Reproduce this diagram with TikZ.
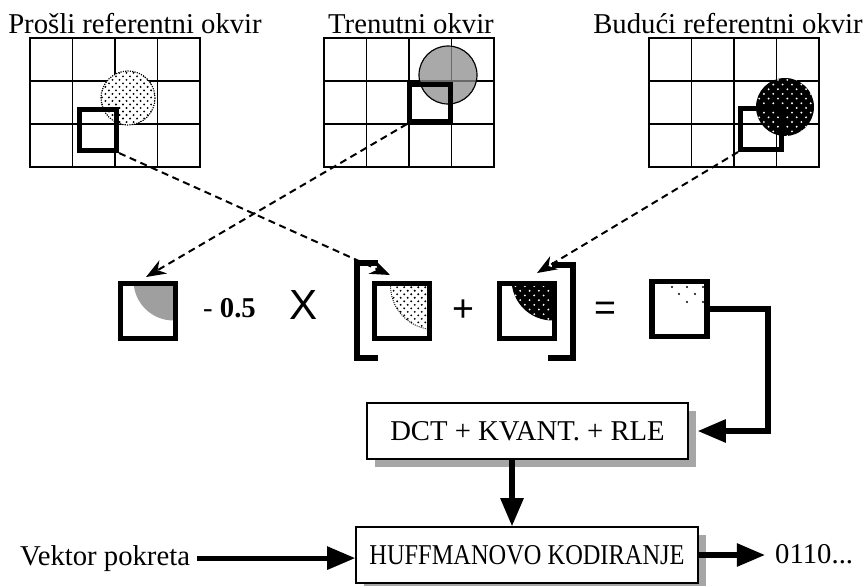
\documentclass[tikz,border=0pt]{standalone}
\usepackage{fontspec}
\setmainfont{Liberation Serif}
\newfontfamily\arialfont{Liberation Sans}
\usepackage{xcolor}
\usepackage{graphicx}
\usepackage{tikz}
\usetikzlibrary{arrows.meta,shadows,patterns}
\pgfdeclarepatternformonly{sparsedots}{\pgfqpoint{-1pt}{-1pt}}{\pgfqpoint{7pt}{7pt}}{\pgfqpoint{6pt}{6pt}}{%
  \pgfpathcircle{\pgfqpoint{0pt}{0pt}}{0.9pt}\pgfpathcircle{\pgfqpoint{3pt}{3pt}}{0.9pt}\pgfusepath{fill}}
\pgfdeclarepatternformonly{widedots}{\pgfqpoint{-1pt}{-1pt}}{\pgfqpoint{9pt}{9pt}}{\pgfqpoint{8pt}{8pt}}{%
  \pgfpathcircle{\pgfqpoint{0pt}{0pt}}{0.9pt}\pgfpathcircle{\pgfqpoint{4pt}{4pt}}{0.9pt}\pgfusepath{fill}}
\tikzstyle{frame} = [line width=1.5pt, line cap=rect, draw=black]
\tikzstyle{blok} = [line width=4.3pt, draw=black, inner sep=0pt]
\tikzstyle{mblok} = [line width=4.3pt, draw=black, inner sep=0pt, minimum size=1.65cm]
\tikzstyle{brk} = [line width=4.3pt, line join=miter]
\tikzstyle{stage} = [draw=black, line width=1.2pt, fill=white, inner sep=0pt, font=\fontsize{24.5}{28}\selectfont, drop shadow={shadow xshift=0.24cm, shadow yshift=-0.24cm, fill=gray!70, opacity=1}]
\tikzstyle{lbl} = [inner sep=0pt, font=\fontsize{24.5}{28}\selectfont]
\tikzstyle{sym} = [inner sep=0pt, font=\arialfont\fontsize{32}{36}\selectfont]
\tikzstyle{vec} = [line width=1.7pt, dash pattern=on 6pt off 4pt, -{Stealth[length=17pt, width=13pt]}]
\tikzstyle{flow} = [line width=4.3pt, line join=miter, -{Triangle[length=24pt, width=19pt]}]

\begin{document}
\begin{tikzpicture}[x=0.03cm, y=-0.03cm]
  \useasboundingbox (0,0) rectangle (864,586);

  % okviri
  \foreach \gx in {30,324,649}{
    \foreach \i in {0,...,4}
      \draw[frame] (\gx+\i*42.5,38) -- (\gx+\i*42.5,167);
    \foreach \j in {0,...,3}
      \draw[frame] (\gx,38+\j*43) -- (\gx+170,38+\j*43);
  }
  \draw[densely dotted, line width=1pt, fill=white, postaction={pattern=sparsedots}] (128,98) circle (27);
  \draw[line width=1pt, fill=gray!90, fill opacity=0.75] (448,75) circle (29);
  \fill[black, postaction={pattern=widedots, pattern color=white}] (785,107) circle (29);

  \node[blok, minimum width=1.11cm, minimum height=1.23cm] (pastblk) at (98,130) {};
  \node[blok, minimum width=1.23cm, minimum height=1.11cm] (curblk) at (430,103) {};
  \node[blok, minimum size=1.23cm] (futblk) at (761,129) {};

  \node[lbl, anchor=base] (pastlbl) at (135,33) {Prošli referentni okvir};
  \node[lbl, anchor=base] (curlbl) at (411,33) {Trenutni okvir};
  \node[lbl, anchor=base] (futlbl) at (728,33) {Budući referentni okvir};

  % blokovi
  \node[mblok, path picture={\fill[gray!75] ([shift={(-2,-3)}]path picture bounding box.north east) circle (40);}] (cursq) at (148,311) {};
  \node[mblok, path picture={\path[draw=black, densely dotted, line width=0.8pt, pattern=sparsedots] ([shift={(5,2)}]path picture bounding box.north east) circle (44);}] (pastsq) at (402,311) {};
  \node[mblok, path picture={\fill[black] ([shift={(-2,-4)}]path picture bounding box.north east) circle (41);
    \fill[pattern=widedots, pattern color=white] ([shift={(-2,-4)}]path picture bounding box.north east) circle (41);}] (futsq) at (527,311) {};
  \node[mblok] (ressq) at (679.5,309) {};
  \foreach \p in {(672,287),(687,287),(703,287),(679,294),(695,294),(687,302),(703,302)}
    \fill \p circle (1.1);

  \node[lbl, anchor=base west] (coef) at (203,317) {- \textbf{0.5}};
  \node[sym, font=\arialfont\fontsize{36}{40}\selectfont] (times) at (304,305) {X};
  \node[sym] (plus) at (463,311) {+};
  \node[sym] (eq) at (605,311) {=};

  \draw[brk] (378,358) -- (357,358) -- (357,263) -- (378,263);
  \draw[brk] (548,358) -- (573,358) -- (573,265) -- (552,265);

  % vektori pokreta
  \coordinate (pastin) at (390,275);
  \coordinate (curin) at (146,277);
  \coordinate (futin) at (537,273);
  \draw[vec] (pastblk.south east) -- (pastin);
  \draw[vec] (curblk.south west) -- (curin);
  \draw[vec] (futblk.south west) -- (futin);

  % kodiranje
  \node[stage, minimum width=9.63cm, minimum height=1.68cm] (dct) at (527.5,431) {DCT + KVANT. + RLE};
  \node[stage, minimum width=10.26cm, minimum height=1.68cm] (huf) at (527,555) {\scalebox{0.85}[1]{HUFFMANOVO KODIRANJE}};
  \node[lbl, anchor=base west] (vek) at (20,565) {Vektor pokreta};
  \node[lbl, anchor=base west] (bits) at (775,563) {0110...};

  \coordinate (drop) at (512,0);
  \coordinate (turn) at (768,0);
  \draw[flow] (ressq.east) -| (turn |- dct.east) -- ([xshift=0.27cm]dct.east);
  \draw[flow] (dct.south -| drop) -- (huf.north -| drop);
  \draw[flow] ([xshift=0.2cm]vek.east) -- (vek.east -| huf.west);
  \draw[flow, shorten >=0.3cm] (huf.east) -- (huf.east -| bits.west);
\end{tikzpicture}
\end{document}
